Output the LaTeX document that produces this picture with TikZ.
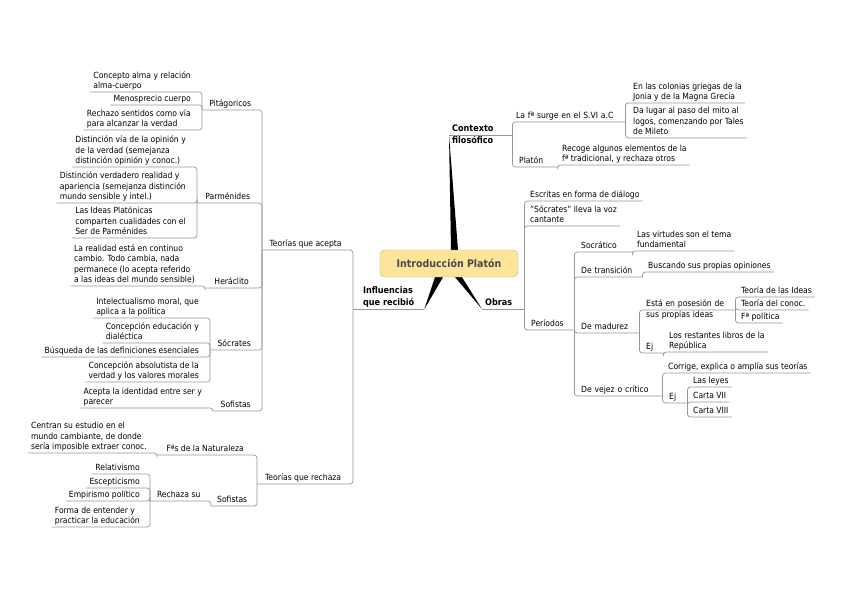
\documentclass[tikz,border=0pt]{standalone}
\usepackage{fontspec}
\setmainfont{DejaVu Sans Condensed}
\usetikzlibrary{calc,backgrounds}
\definecolor{wirec}{RGB}{150,150,150}
\definecolor{corefill}{RGB}{252,228,155}
\definecolor{coredraw}{RGB}{200,178,120}
\definecolor{coretext}{RGB}{72,72,72}
\tikzset{
  wire/.style={draw=wirec,line width=0.7pt,rounded corners=3pt},
  leaf/.style={inner xsep=3pt,inner ysep=1pt,text depth=2pt,align=left,
    font=\fontsize{8.5}{10.5}\selectfont},
  hub/.style={leaf,minimum width=#1},
  rhub/.style={leaf,text width=#1},
  topic/.style={leaf,font=\bfseries\fontsize{9}{12}\selectfont,minimum width=#1},
  rtopic/.style={leaf,font=\bfseries\fontsize{9}{12}\selectfont,text width=#1},
  core/.style={draw=coredraw,fill=corefill,rounded corners=5pt,
    minimum width=138pt,minimum height=27pt,text=coretext,
    font=\bfseries\fontsize{10.5}{12}\selectfont},
}

\begin{document}
\begin{tikzpicture}[x=1pt,y=-1pt]
  \useasboundingbox (0,0) rectangle (848,599);
  \node[core] (core) at (449,263.5) {Introducción Platón};
  % main topics
  \node[topic=71pt,anchor=south west] (infl) at (353,309) {Influencias\\que recibió};
  \node[rtopic=57pt,anchor=south west] (ctx) at (449,135) {Contexto\\filosófico};
  \node[rtopic=36pt,anchor=south west] (obras) at (482,309) {Obras};
  \begin{scope}[on background layer]
    \fill ($(core.north)+(2,0)$) -- (ctx.south west) -- ($(core.north)+(9,0)$) -- cycle;
    \fill ($(core.south)+(-14,0)$) -- (infl.south east) -- ($(core.south)+(-6,0)$) -- cycle;
    \fill ($(core.south)+(6,0)$) -- (obras.south west) -- ($(core.south)+(13,0)$) -- cycle;
  \end{scope}

  % left: influencias
  \node[hub=87pt,anchor=south west] (acepta) at (262,250) {Teorías que acepta};
  \node[hub=92pt,anchor=south west] (rechaza) at (257,484) {Teorías que rechaza};
  \node[hub=56pt,anchor=south west] (pitag) at (202,110) {Pitágoricos};
  \node[hub=61pt,anchor=south west] (parmen) at (197,203) {Parménides};
  \node[hub=53pt,anchor=south west] (heracl) at (205,288) {Heráclito};
  \node[hub=48pt,anchor=south west] (socr) at (210,350) {Sócrates};
  \node[hub=45pt,anchor=south west] (sofa) at (213,411) {Sofistas};
  \node[hub=96pt,anchor=south west] (natur) at (157,455) {Fªs de la Naturaleza};
  \node[hub=42pt,anchor=south west] (sofr) at (211,506) {Sofistas};
  \node[hub=57pt,anchor=south west] (rechsu) at (150,501) {Rechaza su};

  \node[leaf,anchor=south east] (concepto) at (194,92) {Concepto alma y relación\\alma-cuerpo};
  \node[leaf,anchor=south east] (menos) at (194,105) {Menosprecio cuerpo};
  \node[leaf,anchor=south east] (rechazo) at (194,130) {Rechazo sentidos como vía\\para alcanzar la verdad};
  \node[leaf,anchor=south east] (distvia) at (189,167) {Distinción vía de la opinión y\\de la verdad (semejanza\\distinción opinión y conoc.)};
  \node[leaf,anchor=south east] (distver) at (189,203) {Distinción verdadero realidad y\\apariencia (semejanza distinción\\mundo sensible y intel.)};
  \node[leaf,anchor=south east] (ideas) at (189,238) {Las Ideas Platónicas\\comparten cualidades con el\\Ser de Parménides};
  \node[leaf,anchor=south east] (realidad) at (198,286) {La realidad está en continuo\\cambio. Todo cambia, nada\\permanece (lo acepta referido\\a las ideas del mundo sensible)};
  \node[leaf,anchor=south east] (intel) at (202,318) {Intelectualismo moral, que\\aplica a la política};
  \node[leaf,anchor=south east] (educ) at (202,343) {Concepción educación y\\dialéctica};
  \node[leaf,anchor=south east] (busq) at (202,357) {Búsqueda de las definiciones esenciales};
  \node[leaf,anchor=south east] (absol) at (202,382) {Concepción absolutista de la\\verdad y los valores morales};
  \node[leaf,anchor=south east] (ident) at (205,408) {Acepta la identidad entre ser y\\parecer};
  \node[leaf,anchor=south east] (centran) at (150,453) {Centran su estudio en el\\mundo cambiante, de donde\\sería imposible extraer conoc.};
  \node[leaf,anchor=south east] (relat) at (143,474) {Relativismo};
  \node[leaf,anchor=south east] (escep) at (143,488) {Escepticismo};
  \node[leaf,anchor=south east] (empir) at (143,501) {Empirismo político};
  \node[leaf,anchor=south east] (forma) at (143,527) {Forma de entender y\\practicar la educación};

  % right: contexto and obras
  \node[rhub=106pt,anchor=south west] (surge) at (513,122) {La fª surge en el S.VI a.C};
  \node[rhub=35pt,anchor=south west] (platon) at (516,167) {Platón};
  \node[rhub=40pt,anchor=south west] (periodos) at (528,330) {Períodos};
  \node[rhub=48pt,anchor=south west] (socratico) at (578,252) {Socrático};
  \node[rhub=58pt,anchor=south west] (transic) at (578,277) {De transición};
  \node[rhub=55pt,anchor=south west] (madurez) at (578,333) {De madurez};
  \node[rhub=78pt,anchor=south west] (vejez) at (578,396) {De vejez o crítico};
  \node[rhub=86pt,anchor=south west] (posesion) at (643,310) {Está en posesión de\\sus propias ideas};
  \node[rhub=14pt,anchor=south west] (ejm) at (643,353) {Ej};
  \node[rhub=15pt,anchor=south west] (ejv) at (666,403) {Ej};

  \node[leaf,anchor=south west] (colonias) at (630,103) {En las colonias griegas de la\\Jonia y de la Magna Grecia};
  \node[leaf,anchor=south west] (dalugar) at (630,138) {Da lugar al paso del mito al\\logos, comenzando por Tales\\de Mileto};
  \node[leaf,anchor=south west] (recoge) at (559,165) {Recoge algunos elementos de la\\fª tradicional, y rechaza otros};
  \node[leaf,anchor=south west] (escritas) at (527,201) {Escritas en forma de diálogo};
  \node[leaf,anchor=south west] (socvoz) at (527,226) {"Sócrates" lleva la voz\\cantante};
  \node[leaf,anchor=south west] (virtudes) at (634,251) {Las virtudes son el tema\\fundamental};
  \node[leaf,anchor=south west] (buscando) at (645,272) {Buscando sus propias opiniones};
  \node[leaf,anchor=south west] (tideas) at (738,297) {Teoría de las Ideas};
  \node[leaf,anchor=south west] (tconoc) at (738,310) {Teoría del conoc.};
  \node[leaf,anchor=south west] (fpol) at (738,323) {Fª política};
  \node[leaf,anchor=south west] (republica) at (666,352) {Los restantes libros de la\\República};
  \node[leaf,anchor=south west] (corrige) at (665,373) {Corrige, explica o amplía sus teorías};
  \node[leaf,anchor=south west] (leyes) at (690,387) {Las leyes};
  \node[leaf,anchor=south west] (carta7) at (690,402) {Carta VII};
  \node[leaf,anchor=south west] (carta8) at (690,417) {Carta VIII};

  % connectors
  \foreach \n in {infl,ctx,obras}
    \draw[wire] (\n.south west) -- (\n.south east);
  \foreach \a/\b in {infl/acepta,infl/rechaza,acepta/pitag,acepta/parmen,
      acepta/heracl,acepta/socr,acepta/sofa,pitag/concepto,pitag/menos,
      pitag/rechazo,parmen/distvia,parmen/distver,parmen/ideas,heracl/realidad,
      socr/intel,socr/educ,socr/busq,socr/absol,sofa/ident,rechaza/natur,
      rechaza/sofr,natur/centran,sofr/rechsu,rechsu/relat,rechsu/escep,
      rechsu/empir,rechsu/forma}
    \draw[wire] (\a.south west) |- (\b.south west);
  \foreach \a/\b in {ctx/surge,ctx/platon,surge/colonias,surge/dalugar,
      platon/recoge,obras/escritas,obras/socvoz,obras/periodos,
      periodos/socratico,periodos/transic,periodos/madurez,periodos/vejez,
      socratico/virtudes,transic/buscando,madurez/posesion,madurez/ejm,
      posesion/tideas,posesion/tconoc,posesion/fpol,ejm/republica,
      vejez/corrige,vejez/ejv,ejv/leyes,ejv/carta7,ejv/carta8}
    \draw[wire] (\a.south east) |- (\b.south east);
\end{tikzpicture}
\end{document}
